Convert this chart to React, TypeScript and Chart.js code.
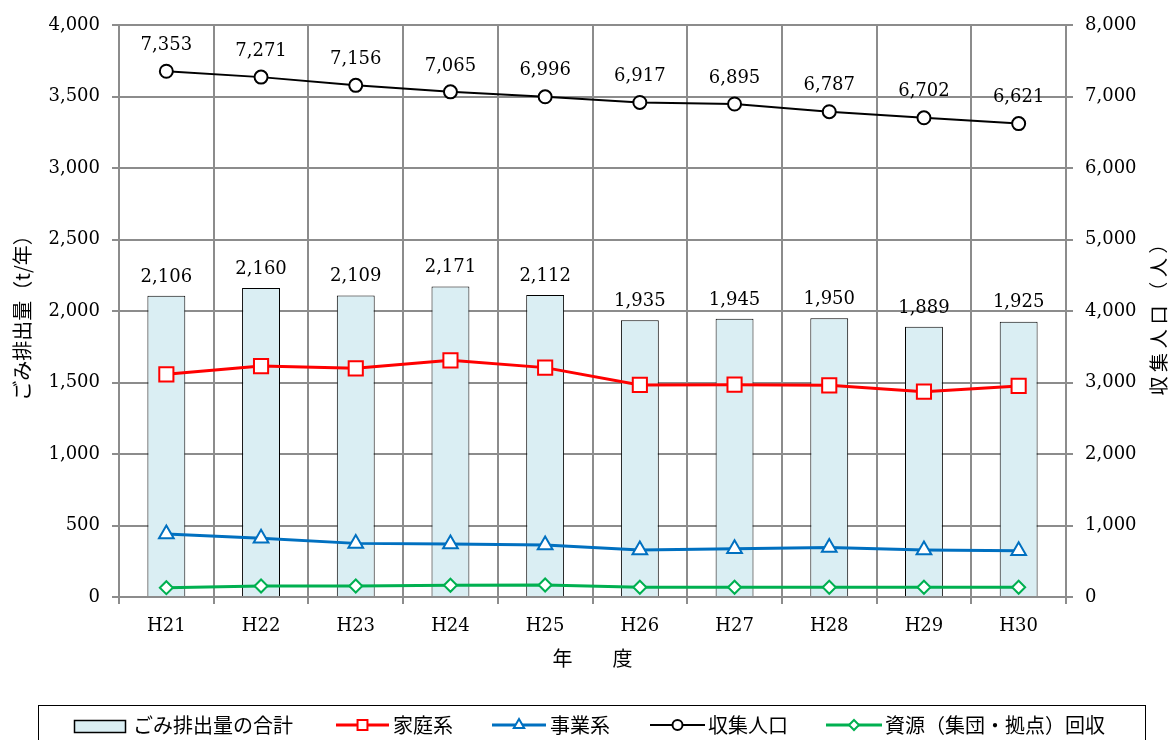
import React, { useEffect, useRef } from 'react';
import { Chart, registerables } from 'chart.js';

Chart.register(...registerables);

const years = ['H21', 'H22', 'H23', 'H24', 'H25', 'H26', 'H27', 'H28', 'H29', 'H30'];
const totalWaste = [2106, 2160, 2109, 2171, 2112, 1935, 1945, 1950, 1889, 1925];
const household = [1557, 1615, 1599, 1655, 1604, 1483, 1485, 1480, 1436, 1476];
const business = [440, 410, 375, 370, 364, 329, 338, 347, 329, 324];
const population = [7353, 7271, 7156, 7065, 6996, 6917, 6895, 6787, 6702, 6621];
const resource = [65, 77, 77, 82, 84, 68, 68, 68, 68, 68];

const leftTicksMax = 4000;
const leftStep = 500;
const rightTicksMax = 8000;
const rightStep = 1000;

const leftTitle = 'ごみ排出量（t/年）';
const rightTitle = '収集人口（人）';
const xTitle = '年　　度';

const SERIF = '"DejaVu Serif", serif';
const JP = '"Noto Sans CJK JP", "Noto Sans", sans-serif';

const fmt = (v: number) => Number(v).toLocaleString('en-US');

function drawMarker(ctx: CanvasRenderingContext2D, style: string, x: number, y: number, r: number) {
  ctx.beginPath();
  if (style === 'rect') {
    const s = r * Math.SQRT1_2;
    ctx.rect(x - s, y - s, 2 * s, 2 * s);
  } else if (style === 'triangle') {
    ctx.moveTo(x, y - r);
    ctx.lineTo(x + r * Math.cos(Math.PI / 6), y + r / 2);
    ctx.lineTo(x - r * Math.cos(Math.PI / 6), y + r / 2);
    ctx.closePath();
  } else if (style === 'circle') {
    ctx.arc(x, y, r, 0, Math.PI * 2);
  } else if (style === 'rectRot') {
    ctx.moveTo(x, y - r);
    ctx.lineTo(x + r, y);
    ctx.lineTo(x, y + r);
    ctx.lineTo(x - r, y);
    ctx.closePath();
  }
  ctx.fill();
  ctx.stroke();
}

const customPlugin = {
  id: 'customDraw',
  afterDatasetsDraw(chart: any) {
    const ctx: CanvasRenderingContext2D = chart.ctx;
    ctx.save();
    ctx.fillStyle = '#000';
    ctx.font = `18px ${SERIF}`;
    ctx.textAlign = 'center';
    ctx.textBaseline = 'middle';
    const barMeta = chart.getDatasetMeta(0);
    barMeta.data.forEach((el: any, i: number) => {
      ctx.fillText(fmt(totalWaste[i]), el.x, el.y - 19);
    });
    const popMeta = chart.getDatasetMeta(3);
    popMeta.data.forEach((el: any, i: number) => {
      ctx.fillText(fmt(population[i]), el.x, el.y - 26);
    });
    ctx.restore();
  },
  afterDraw(chart: any) {
    const ctx: CanvasRenderingContext2D = chart.ctx;
    const area = chart.chartArea;
    ctx.save();
    ctx.fillStyle = '#000';
    // left title
    ctx.font = `20px ${JP}`;
    ctx.textAlign = 'center';
    ctx.textBaseline = 'middle';
    ctx.save();
    ctx.translate(22, 313);
    ctx.rotate(-Math.PI / 2);
    ctx.fillText(leftTitle, 0, 0);
    ctx.restore();
    // right title (spaced characters)
    ctx.font = `19px ${JP}`;
    const chars = Array.from(rightTitle);
    const step = 23.7;
    const cy = 315;
    const startY = cy + (step * (chars.length - 1)) / 2;
    chars.forEach((ch, i) => {
      ctx.save();
      ctx.translate(1159, startY - i * step);
      ctx.rotate(-Math.PI / 2);
      ctx.fillText(ch, 0, 0);
      ctx.restore();
    });
    // x title
    ctx.font = `20px ${JP}`;
    ctx.fillText(xTitle, (area.left + area.right) / 2, 658);

    // legend
    const lx = 38, ly = 705, lw = 1107, lh = 45;
    ctx.strokeStyle = '#000';
    ctx.lineWidth = 1;
    ctx.strokeRect(lx + 0.5, ly + 0.5, lw, lh);
    const legendY = 725;
    ctx.font = `20px ${JP}`;
    ctx.textAlign = 'left';
    ctx.textBaseline = 'middle';
    const ds = chart.data.datasets;
    ctx.fillStyle = ds[0].backgroundColor;
    ctx.fillRect(74, 720, 51, 13);
    ctx.strokeStyle = '#000';
    ctx.lineWidth = 1.5;
    ctx.strokeRect(74.5, 720.5, 51, 12);
    ctx.fillStyle = '#000';
    ctx.fillText(ds[0].label, 133, legendY);
    const items = [
      { i: 1, x0: 336, x1: 389, tx: 393, r: 7 },
      { i: 2, x0: 492, x1: 546, tx: 550, r: 6 },
      { i: 3, x0: 650, x1: 705, tx: 708, r: 5 },
      { i: 4, x0: 826, x1: 882, tx: 885, r: 5 },
    ];
    items.forEach((it) => {
      const d = ds[it.i];
      ctx.strokeStyle = d.borderColor;
      ctx.lineWidth = d.borderWidth;
      ctx.beginPath();
      ctx.moveTo(it.x0, legendY);
      ctx.lineTo(it.x1, legendY);
      ctx.stroke();
      ctx.fillStyle = '#fff';
      ctx.lineWidth = 2;
      drawMarker(ctx, d.pointStyle, (it.x0 + it.x1) / 2, legendY, it.r);
      ctx.fillStyle = '#000';
      ctx.fillText(d.label, it.tx, legendY);
    });
    ctx.restore();
  },
};

const GRID = '#8c8c8c';

export default function App() {
  const canvasRef = useRef<HTMLCanvasElement | null>(null);

  useEffect(() => {
    const canvas = canvasRef.current;
    if (!canvas) return;
    const chart = new Chart(canvas, {
      type: 'bar',
      data: {
        labels: years,
        datasets: [
          {
            type: 'bar',
            label: 'ごみ排出量の合計',
            data: totalWaste,
            backgroundColor: '#DAEEF3',
            borderColor: '#000000',
            borderWidth: 1,
            barPercentage: 0.4,
            categoryPercentage: 1.0,
            yAxisID: 'y',
            order: 10,
          },
          {
            type: 'line',
            label: '家庭系',
            data: household,
            borderColor: '#FF0000',
            borderWidth: 3,
            pointStyle: 'rect',
            pointRadius: 10,
            pointBorderWidth: 2,
            pointBackgroundColor: '#FFFFFF',
            pointBorderColor: '#FF0000',
            yAxisID: 'y',
            order: 1,
          },
          {
            type: 'line',
            label: '事業系',
            data: business,
            borderColor: '#0070C0',
            borderWidth: 3,
            pointStyle: 'triangle',
            pointRadius: 8.5,
            pointBorderWidth: 2,
            pointBackgroundColor: '#FFFFFF',
            pointBorderColor: '#0070C0',
            yAxisID: 'y',
            order: 2,
          },
          {
            type: 'line',
            label: '収集人口',
            data: population,
            borderColor: '#000000',
            borderWidth: 2,
            pointStyle: 'circle',
            pointRadius: 6.5,
            pointBorderWidth: 2,
            pointBackgroundColor: '#FFFFFF',
            pointBorderColor: '#000000',
            yAxisID: 'y1',
            order: 3,
          },
          {
            type: 'line',
            label: '資源（集団・拠点）回収',
            data: resource,
            borderColor: '#00B050',
            borderWidth: 3,
            pointStyle: 'rectRot',
            pointRadius: 6.5,
            pointBorderWidth: 2,
            pointBackgroundColor: '#FFFFFF',
            pointBorderColor: '#00B050',
            yAxisID: 'y',
            order: 4,
          },
        ] as any,
      },
      options: {
        responsive: true,
        maintainAspectRatio: false,
        animation: false,
        layout: { padding: { top: 25, left: 0, right: 0, bottom: 0 } },
        plugins: {
          legend: { display: false },
          tooltip: { enabled: false },
          title: { display: false },
        },
        scales: {
          x: {
            offset: true,
            grid: { offset: true, color: GRID, lineWidth: 2, tickLength: 7, drawTicks: true },
            border: { color: GRID, width: 2 },
            ticks: { color: '#000', font: { family: SERIF, size: 18 }, padding: 12, maxRotation: 0 },
            afterFit(scale: any) {
              scale.height = 143;
            },
          },
          y: {
            position: 'left',
            min: 0,
            max: leftTicksMax,
            ticks: {
              stepSize: leftStep,
              color: '#000',
              font: { family: SERIF, size: 18 },
              padding: 12,
              callback: (v: any) => fmt(v),
            },
            grid: { color: GRID, lineWidth: 2, tickLength: 7 },
            border: { color: GRID, width: 2 },
            afterFit(scale: any) {
              scale.width = 119;
            },
          },
          y1: {
            position: 'right',
            min: 0,
            max: rightTicksMax,
            ticks: {
              stepSize: rightStep,
              color: '#000',
              font: { family: SERIF, size: 18 },
              padding: 12,
              callback: (v: any) => fmt(v),
            },
            grid: { color: GRID, lineWidth: 2, tickLength: 7, drawOnChartArea: false },
            border: { color: GRID, width: 2 },
            afterFit(scale: any) {
              scale.width = 107;
            },
          },
        },
      },
      plugins: [customPlugin],
    });
    return () => chart.destroy();
  }, []);

  return (
    <div style={{ position: 'absolute', left: 0, top: 0, width: 1173, height: 740, background: '#fff' }}>
      <canvas ref={canvasRef} />
    </div>
  );
}
